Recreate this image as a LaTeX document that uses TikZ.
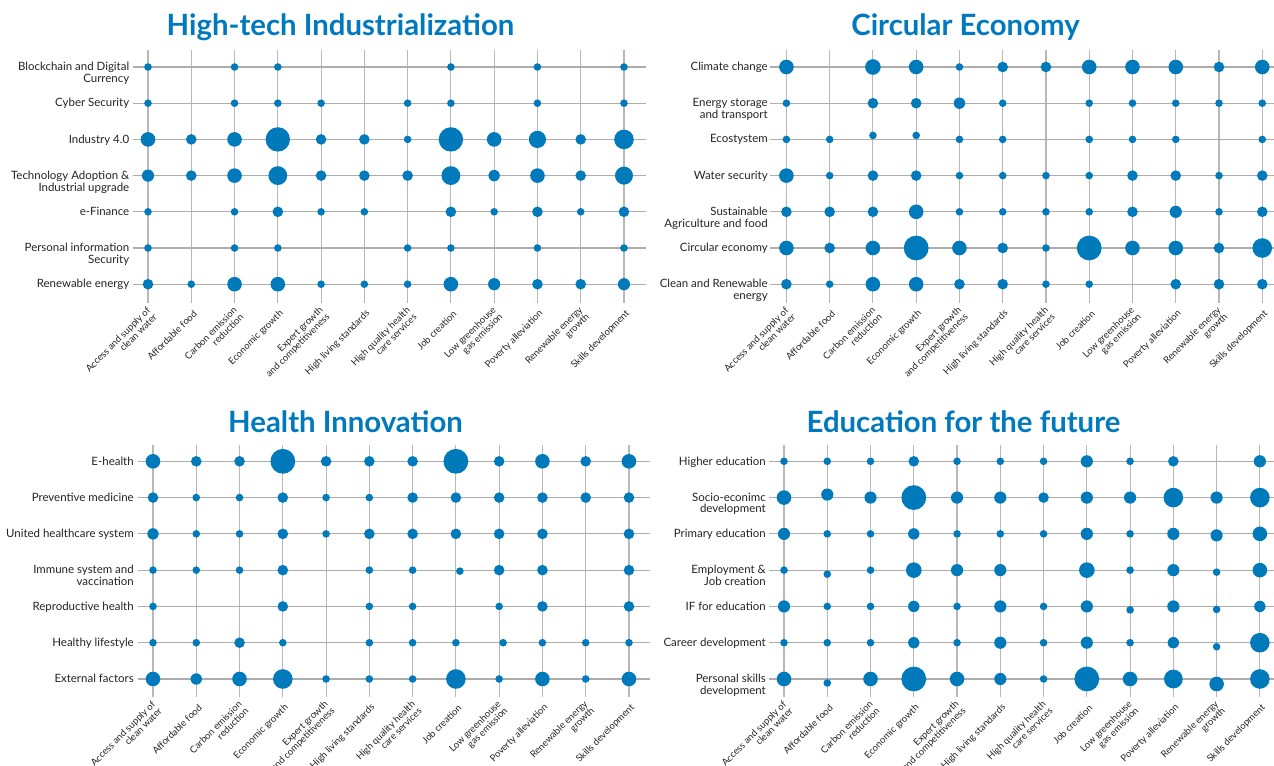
\documentclass[tikz,border=0pt]{standalone}
\usepackage{fontspec}
\setmainfont{Lato}

\definecolor{bubbleblue}{RGB}{0,122,187}
\definecolor{titleblue}{RGB}{0,121,190}
\definecolor{labgray}{RGB}{35,35,35}

\tikzset{
  dot/.style={fill=bubbleblue},
  hgrid/.style={draw=black!32,line width=0.8pt},
  vgrid/.style={draw=black!28,line width=0.85pt},
  rowlab/.style={anchor=north east,inner sep=0pt,align=right,text=labgray,font=\fontsize{8.6}{8.8}\selectfont},
  collab/.style={anchor=east,rotate=45,inner sep=0pt,align=right,text=labgray,font=\fontsize{7.1}{7.2}\selectfont},
  ttl/.style={anchor=base,text=titleblue,font=\bfseries\fontsize{22}{24}\selectfont}
}

% one bubble grid: #1 name prefix, #2 rows (label/radii)
\newcommand{\bubblegrid}[2]{%
  \foreach \cl [count=\c] in {{Access and supply of\\clean water},{Affordable food},{Carbon emission\\reduction},{Economic growth},{Expert growth\\and competitiveness},{High living standards},{High quality health\\care services},{Job creation},{Low greenhouse\\gas emission},{Poverty alleviation},{Renewable energy\\growth},{Skills development}}{
    \draw[vgrid] ({\colx+(\c-1)*\colstep},\vfrom) -- ({\colx+(\c-1)*\colstep},\vto);
    \node[collab] (#1-c\c) at ({\colx+(\c-1)*\colstep+4},\vto+9) {\cl};
  }
  \foreach \lab/\vals [count=\rw] in {#2}{
    \draw[hgrid] (\hfrom,{\rowy+(\rw-1)*\rowstep}) -- (\hto,{\rowy+(\rw-1)*\rowstep});
    \node[rowlab] (#1-r\rw) at (\labx,{\rowy+(\rw-1)*\rowstep-5}) {\lab};
    \foreach \r [count=\c] in \vals
      \fill[dot] ({\colx+(\c-1)*\colstep},{\rowy+(\rw-1)*\rowstep}) circle (\r);
  }
}
% bubbles sitting a little off the grid: column/row/radius/dx/dy
\newcommand{\offdots}[1]{%
  \foreach \c/\rw/\r/\ox/\oy in {#1}
    \fill[dot] ({\colx+(\c-1)*\colstep+\ox},{\rowy+(\rw-1)*\rowstep+\oy}) circle (\r);
}

\begin{document}
\begin{tikzpicture}[x=0.75pt,y=-0.75pt]
\useasboundingbox (0,0) rectangle (1274,765);

% High-tech Industrialization
\begin{scope}
  \def\colx{148}\def\colstep{43.27}\def\rowy{67}\def\rowstep{36.2}
  \def\labx{129.5}\def\hfrom{133}\def\hto{646}\def\vfrom{50}\def\vto{303}
  \node[ttl] (ht-title) at (340.5,35) {High-tech Industrialization};
  \bubblegrid{ht}{
    {Blockchain and Digital\\Currency}/{3.8,0,3.8,3.8,0,0,0,3.8,0,3.8,0,3.8},
    {Cyber Security}/{3.8,0,3.8,3.8,3.8,0,3.8,3.8,0,3.8,0,3.8},
    {Industry 4.0}/{7.3,5.3,7.3,12.2,5.3,5.3,3.8,12.2,7.3,8.6,5.3,9.8},
    {Technology Adoption \&\\Industrial upgrade}/{6.1,5.3,7.3,9.4,5.3,5.3,5.3,9.4,5.7,7.3,5.3,9},
    {e-Finance}/{3.8,0,3.8,5.3,3.8,3.8,0,5.3,3.8,5.3,3.8,5.3},
    {Personal information\\Security}/{3.8,0,3.8,3.8,0,0,3.8,3.8,0,3.8,0,3.8},
    {Renewable energy}/{5.3,3.8,7.3,7.3,3.8,3.8,3.8,7.3,6.1,5.3,5.3,6.1}}
\end{scope}

% Circular Economy
\begin{scope}
  \def\colx{786.4}\def\colstep{43.26}\def\rowy{67}\def\rowstep{36.2}
  \def\labx{768}\def\hfrom{770}\def\hto{1274}\def\vfrom{50}\def\vto{303}
  \node[ttl] (ce-title) at (965.5,35) {Circular Economy};
  \bubblegrid{ce}{
    {Climate change}/{7.3,0,7.8,7.3,3.8,5.3,5.3,7.3,7.3,7.3,5.3,7.3},
    {Energy storage\\and transport}/{3.8,0,5.3,5.3,5.7,3.8,0,3.8,3.8,3.8,3.8,3.8},
    {Ecostystem}/{3.8,3.8,0,0,3.8,3.8,0,3.8,3.8,3.8,0,3.8},
    {Water security}/{7.3,3.8,5.3,5.3,3.8,3.8,3.8,3.8,5.3,5.3,3.8,5.3},
    {Sustainable\\Agriculture and food}/{5.3,5.3,5.3,7.3,3.8,3.8,3.8,3.8,5.3,6.1,3.8,5.3},
    {Circular economy}/{7.3,5.3,7.3,12.4,7.3,5.3,3.8,12.4,7.3,7.3,5.3,9.8},
    {Clean and Renewable\\energy}/{5.3,3.8,7.3,7.3,5.3,5.3,3.8,3.8,0,5.3,5.3,5.3}}
  \offdots{3/3/3.8/0/-4, 4/3/3.8/0/-4}
\end{scope}

% Health Innovation
\begin{scope}
  \def\colx{153}\def\colstep{43.27}\def\rowy{461.3}\def\rowstep{36.28}
  \def\labx{134}\def\hfrom{138}\def\hto{650}\def\vfrom{445}\def\vto{697}
  \node[ttl] (hi-title) at (345.5,432) {Health Innovation};
  \bubblegrid{hi}{
    {E-health}/{7.3,5.3,5.3,12.4,5.3,5.3,5.3,12.4,5.3,7.3,5.3,7.3},
    {Preventive medicine}/{5.3,3.8,3.8,5.3,3.8,3.8,5.3,5.3,5.3,5.3,5.3,5.3},
    {United healthcare system}/{5.7,3.8,3.8,5.3,3.8,5.3,5.3,5.3,5.3,5.3,0,5.3},
    {Immune system and\\vaccination}/{3.8,3.8,3.8,5.3,0,3.8,3.8,0,5.3,5.3,0,5.3},
    {Reproductive health}/{3.8,0,0,5.3,0,3.8,3.8,0,3.8,5.3,0,5.3},
    {Healthy lifestyle}/{3.8,3.8,5.3,3.8,0,3.8,3.8,3.8,0,3.8,3.8,3.8},
    {External factors}/{7.3,5.7,7.3,9.8,3.8,3.8,3.8,9.8,3.8,7.3,3.8,7.3}}
  \offdots{8/4/3.8/4/1, 9/6/3.8/4/0}
\end{scope}

% Education for the future
\begin{scope}
  \def\colx{784}\def\colstep{43.26}\def\rowy{461.3}\def\rowstep{36.28}
  \def\labx{766}\def\hfrom{769}\def\hto{1274}\def\vfrom{445}\def\vto{697}
  \node[ttl] (ef-title) at (963.5,432) {Education for the future};
  \bubblegrid{ef}{
    {Higher education}/{3.8,3.8,3.8,5.3,3.8,3.8,3.8,6.1,3.8,5.3,0,6.1},
    {Socio-econimc\\development}/{7.3,0,6.1,12.4,6.1,6.1,5.3,6.1,6.1,9.8,6.1,9.8},
    {Primary education}/{6.1,3.8,3.8,5.7,3.8,3.8,3.8,6.1,3.8,6.1,0,7.3},
    {Employment \&\\Job creation}/{3.8,0,3.8,7.8,6.1,6.1,0,7.8,3.8,6.1,0,7.3},
    {IF for education}/{6.1,3.8,3.8,5.7,3.8,6.1,3.8,6.1,0,6.1,0,5.7},
    {Career development}/{3.8,3.8,3.8,5.7,3.8,6.1,3.8,6.1,3.8,5.7,0,9.8},
    {Personal skills\\development}/{7.3,0,7.3,12.4,7.3,6.1,3.8,12.4,7.3,9.4,0,9.8}}
  \offdots{2/2/6.1/0/-3, 11/3/6.1/0/1.5, 2/4/3.8/0/4, 11/4/3.8/0/2,
    9/5/3.8/0/3.5, 11/5/3.8/0/3, 11/6/3.8/0/4, 2/7/3.8/0/4, 11/7/7.3/0/5}
\end{scope}

\end{tikzpicture}
\end{document}
